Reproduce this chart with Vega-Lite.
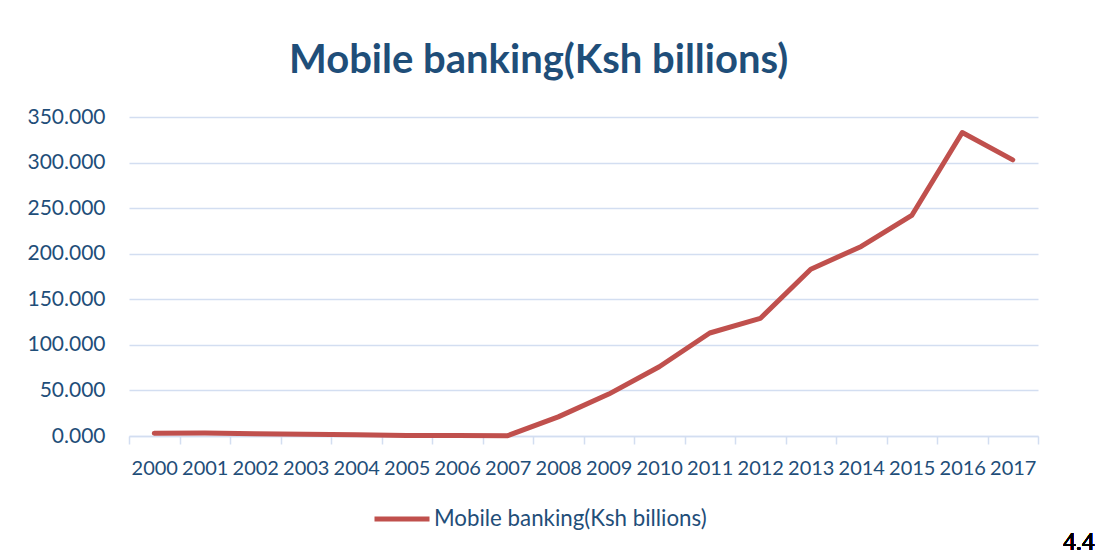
{
  "$schema": "https://vega.github.io/schema/vega-lite/v6.json",
  "width": 909,
  "height": 319,
  "autosize": "none",
  "padding": {"left": 129, "top": 117, "right": 72, "bottom": 121},
  "background": "white",
  "config": {
    "view": {"stroke": null},
    "font": "Lato"
  },
  "title": {
    "text": "Mobile banking(Ksh billions)",
    "font": "Lato",
    "fontSize": 40,
    "fontWeight": "bold",
    "color": "#1F4E79",
    "anchor": "start",
    "frame": "group",
    "dx": 160,
    "baseline": "alphabetic",
    "offset": 0,
    "dy": 7
  },
  "data": {
    "values": [
      {"year": "2000", "value": 3.0, "series": "Mobile banking(Ksh billions)"},
      {"year": "2001", "value": 3.2, "series": "Mobile banking(Ksh billions)"},
      {"year": "2002", "value": 2.5, "series": "Mobile banking(Ksh billions)"},
      {"year": "2003", "value": 2.0, "series": "Mobile banking(Ksh billions)"},
      {"year": "2004", "value": 1.5, "series": "Mobile banking(Ksh billions)"},
      {"year": "2005", "value": 0.6, "series": "Mobile banking(Ksh billions)"},
      {"year": "2006", "value": 0.5, "series": "Mobile banking(Ksh billions)"},
      {"year": "2007", "value": 0.4, "series": "Mobile banking(Ksh billions)"},
      {"year": "2008", "value": 21.0, "series": "Mobile banking(Ksh billions)"},
      {"year": "2009", "value": 46.0, "series": "Mobile banking(Ksh billions)"},
      {"year": "2010", "value": 76.0, "series": "Mobile banking(Ksh billions)"},
      {"year": "2011", "value": 113.0, "series": "Mobile banking(Ksh billions)"},
      {"year": "2012", "value": 129.0, "series": "Mobile banking(Ksh billions)"},
      {"year": "2013", "value": 183.0, "series": "Mobile banking(Ksh billions)"},
      {"year": "2014", "value": 208.0, "series": "Mobile banking(Ksh billions)"},
      {"year": "2015", "value": 242.0, "series": "Mobile banking(Ksh billions)"},
      {"year": "2016", "value": 333.0, "series": "Mobile banking(Ksh billions)"},
      {"year": "2017", "value": 303.0, "series": "Mobile banking(Ksh billions)"}
    ]
  },
  "layer": [
    {
      "mark": {"type": "line", "strokeWidth": 5, "strokeCap": "round", "strokeJoin": "round"},
      "encoding": {
        "x": {
          "field": "year",
          "type": "ordinal",
          "scale": {"type": "band", "paddingInner": 0, "paddingOuter": 0},
          "axis": {
            "title": null,
            "labelAngle": 0,
            "labelFont": "Lato",
            "labelFontSize": 20,
            "labelColor": "#1F4E79",
            "labelPadding": 14,
            "domainColor": "#D3DEF1",
            "domainWidth": 1.5,
            "tickColor": "#D3DEF1",
            "tickWidth": 1.5,
            "tickSize": 8,
            "tickBand": "extent",
            "grid": false
          }
        },
        "y": {
          "field": "value",
          "type": "quantitative",
          "scale": {"domain": [0, 350], "nice": false},
          "axis": {
            "title": null,
            "values": [0, 50, 100, 150, 200, 250, 300, 350],
            "format": ".3f",
            "labelFont": "Lato",
            "labelFontSize": 21,
            "labelColor": "#1F4E79",
            "labelPadding": 24,
            "domain": false,
            "ticks": false,
            "grid": true,
            "gridColor": "#D3DEF1",
            "gridWidth": 1.5
          }
        },
        "color": {
          "field": "series",
          "type": "nominal",
          "scale": {"range": ["#C0504D"]},
          "legend": {
            "title": null,
            "orient": "none",
            "legendX": 243,
            "legendY": 372,
            "symbolType": "stroke",
            "symbolSize": 3025,
            "symbolStrokeWidth": 5,
            "labelFont": "Lato",
            "labelFontSize": 22.3,
            "labelColor": "#1F4E79",
            "labelOffset": 2,
            "labelLimit": 500
          }
        }
      }
    },
    {
      "mark": {"type": "text", "text": "4.4", "font": "'Liberation Serif', 'DejaVu Serif', serif", "fontWeight": "normal", "fontSize": 25, "color": "black", "align": "center", "baseline": "alphabetic", "dx": 66, "dy": 114},
      "encoding": {
        "x": {"datum": "2017", "type": "ordinal"},
        "y": {"datum": 0, "type": "quantitative"}
      }
    }
  ]
}
